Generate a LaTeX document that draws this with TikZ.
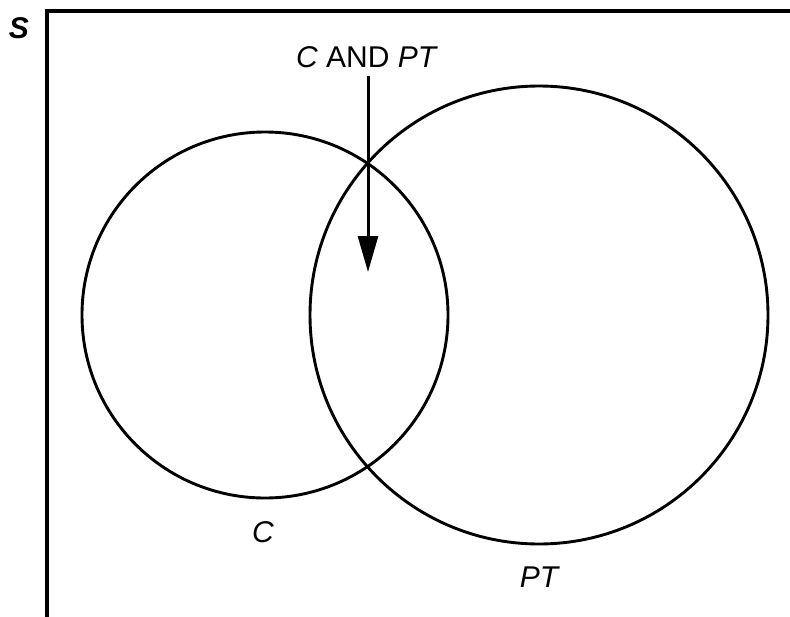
\documentclass[tikz,border=0pt]{standalone}
\usepackage{fontspec}
\setmainfont{Liberation Sans}
\usetikzlibrary{arrows.meta}
\begin{document}
\begin{tikzpicture}[x=1pt,y=1pt,
  setcircle/.style={circle,draw,line width=2.9pt,inner sep=0pt},
  lbl/.style={font=\fontsize{30}{34}\selectfont,inner sep=0pt}]
\useasboundingbox (0,0) rectangle (790,-616);
\coordinate (frTR) at (792,-11);
\coordinate (frBL) at (47,-620);
\draw[line width=3.4pt] (frTR) -| (frBL);
\node[lbl,font=\fontsize{30}{34}\selectfont\bfseries\itshape] (S) at (19,-28) {S};
\node[setcircle,minimum size=366pt] (C) at (265,-315) {};
\node[setcircle,minimum size=458pt] (PT) at (539,-315) {};
\node[lbl] (CandPT) at (367,-57) {\textit{C} AND \textit{PT}};
\coordinate (tip) at (368,-272);
\draw[line width=3pt,-{Triangle[width=20pt,length=36pt]}] (CandPT.south -| tip) ++(0,-8) -- (tip);
\node[lbl] (Clab) at (263,-532) {\textit{C}};
\node[lbl] (PTlab) at (540,-577) {\textit{PT}};
\end{tikzpicture}
\end{document}
